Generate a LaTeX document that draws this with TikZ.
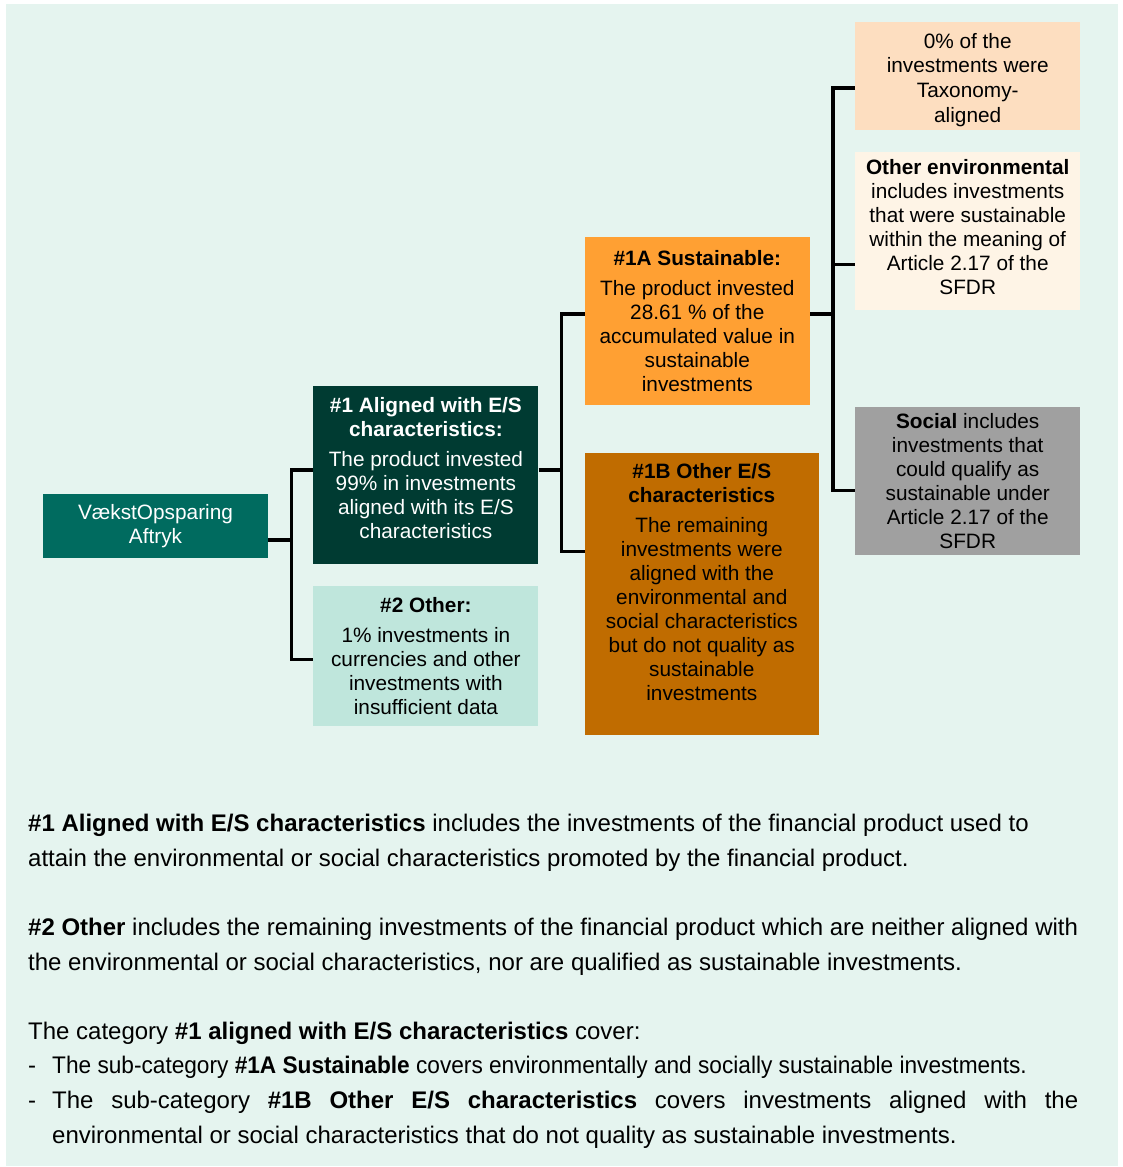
\documentclass[tikz,border=0pt]{standalone}
\usepackage{fontspec}
\setmainfont{Liberation Sans}
\usepackage{tikz}
\usetikzlibrary{positioning}
\definecolor{bgmint}{HTML}{E5F4EF}
\definecolor{rootteal}{HTML}{006B5F}
\definecolor{darkgreen}{HTML}{003B32}
\definecolor{palegreen}{HTML}{BFE6DC}
\definecolor{orangeA}{HTML}{FFA033}
\definecolor{brownB}{HTML}{C06C00}
\definecolor{peachtax}{HTML}{FDDEC0}
\definecolor{creamenv}{HTML}{FEF4E6}
\definecolor{greysoc}{HTML}{A0A0A0}
\newcommand{\bxfont}{\fontsize{20.8}{24}\selectfont}
\newcommand{\ntfont}{\fontsize{24}{34.6}\selectfont}
\tikzset{esbox/.style={rectangle,inner sep=0pt,minimum width=225pt,align=center,font=\bxfont},
	 link/.style={line width=3.2pt},
	 node distance = 22pt
	 }

\begin{document}
\begin{tikzpicture}[x=1pt,y=-1pt] % asset allocation tree
	\useasboundingbox (0,0) rectangle (1123,1167);
	\fill[bgmint] (6,4) rectangle (1118,1166);
	\node[esbox,fill=rootteal,text=white,minimum height=64pt] (root) at (155.5,526) {VækstOpsparing\\Aftryk};
	\node[esbox,fill=darkgreen,text=white,minimum height=178pt] (b1) [right=45pt of root,yshift=51pt] {\textbf{\#1 Aligned with E/S}\\\textbf{characteristics:}\\[6pt]The product invested\\99\% in investments\\aligned with its E/S\\characteristics\\[-10pt]\mbox{}};
	\node[esbox,fill=palegreen,minimum height=140pt] (b2) [below=of b1] {\textbf{\#2 Other:}\\[6pt]1\% investments in\\currencies and other\\investments with\\insufficient data};
	\node[esbox,fill=orangeA,minimum height=168pt] (b1A) [right=46pt of b1,yshift=154pt] {\textbf{\#1A Sustainable:}\\[6pt]The product invested\\28.61 \% of the\\accumulated value in\\sustainable\\investments};
	\node[esbox,fill=brownB,minimum width=234pt,minimum height=282pt] (b1B) [below=48pt of b1A.south west,anchor=north west] {\textbf{\#1B Other E/S}\\\textbf{characteristics}\\[6pt]The remaining\\investments were\\aligned with the\\environmental and\\social characteristics\\but do not quality as\\sustainable\\investments\\\mbox{}};
	\node[esbox,fill=peachtax,minimum height=108pt,font=\fontsize{20.8}{24.7}\selectfont] (tax) [right=45pt of b1A,yshift=245pt] {\raisebox{0pt}[23pt]{0\% of the}\\investments were\\Taxonomy-\\aligned};
	\node[esbox,fill=creamenv,minimum height=158pt] (env) [below=of tax] {\textbf{Other environmental}\\includes investments\\that were sustainable\\within the meaning of\\Article 2.17 of the\\SFDR\\[-15pt]\mbox{}};
	\node[esbox,fill=greysoc,minimum height=148pt] (soc) [below=96pt of env] {\textbf{Social} includes\\investments that\\could qualify as\\sustainable under\\Article 2.17 of the\\SFDR};
	% elbow connectors
	\draw[link] ([yshift=-14pt]root.east) -- ++(23,0) coordinate (s1);
	\draw[link] ([yshift=5pt]b1.west) -| (s1) |- ([yshift=-3pt]b2.west);
	\draw[link] ([yshift=5pt]b1.east) -- ++(23,0) coordinate (s2);
	\draw[link] ([yshift=7pt]b1A.west) -| (s2) |- ([yshift=43pt]b1B.west);
	\draw[link] ([yshift=7pt]b1A.east) -- ++(23,0) coordinate (s3);
	\draw[link] ([yshift=-12pt]tax.west) -| (s3) |- ([yshift=-10pt]soc.west);
	\coordinate (e) at ([yshift=-33pt]env.west);
	\draw[link] (s3 |- e) -- (e);
	\node[font=\ntfont,align=left,inner sep=0pt,anchor=north west] (notes) at (28,814) {\textbf{\#1 Aligned with E/S characteristics} includes the investments of the financial product used to\\
	attain the environmental or social characteristics promoted by the financial product.\\[34.6pt]
	\textbf{\#2 Other} includes the remaining investments of the financial product which are neither aligned with\\
	the environmental or social characteristics, nor are qualified as sustainable investments.\\[34.6pt]
	The category \textbf{\#1 aligned with E/S characteristics} cover:\\
	\makebox[24pt][l]{-}\scalebox{0.944}[1]{The sub-category \textbf{\#1A Sustainable} covers environmentally and socially sustainable investments.}\\
	\makebox[24pt][l]{-}\makebox[1026pt][s]{The sub-category \textbf{\#1B Other E/S characteristics} covers investments aligned with the}\\
	\hspace*{24pt}environmental or social characteristics that do not quality as sustainable investments.};
\end{tikzpicture}
\end{document}
